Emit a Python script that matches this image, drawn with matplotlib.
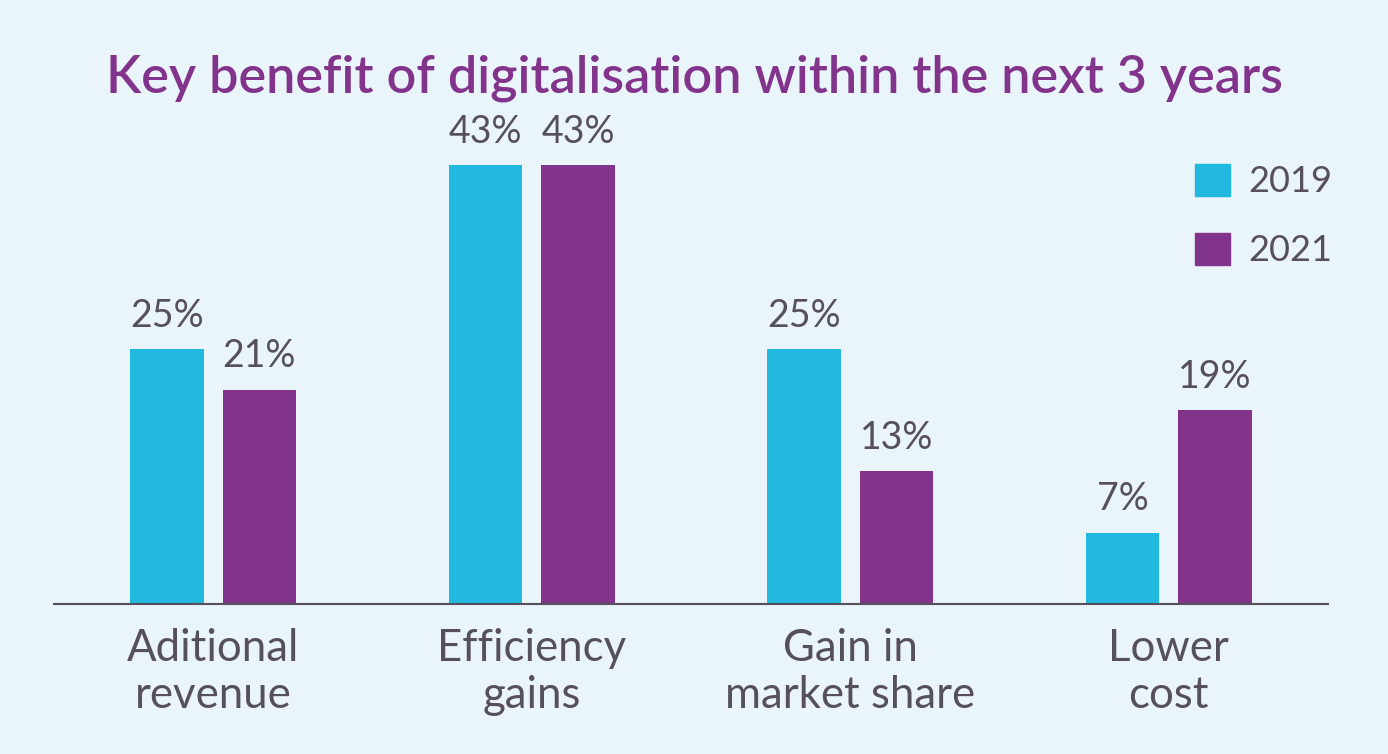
import matplotlib
matplotlib.use("Agg")
import matplotlib.pyplot as plt
from matplotlib.patches import Patch
import numpy as np

categories = ["Aditional\nrevenue", "Efficiency\ngains", "Gain in\nmarket share", "Lower\ncost"]
series_names = ["2019", "2021"]
values_2019 = [25, 43, 25, 7]
values_2021 = [21, 43, 13, 19]
title = "Key benefit of digitalisation within the next 3 years"

BG = "#EAF4FB"
C2019 = "#22B9E0"
C2021 = "#82338B"
TXT = "#56505C"
TITLE_C = "#82338B"
FONT = "Lato"

W, H = 1388, 754
fig = plt.figure(figsize=(W / 100, H / 100), dpi=100, facecolor=BG)
ax = fig.add_axes([54 / W, 150 / H, (1328 - 54) / W, (604 - 100) / H])
ax.set_facecolor(BG)

x = np.arange(len(categories))
width = 0.23
off = 0.145
b1 = ax.bar(x - off, values_2019, width, color=C2019, label=series_names[0])
b2 = ax.bar(x + off, values_2021, width, color=C2021, label=series_names[1])

for bars in (b1, b2):
    ax.bar_label(bars, labels=[f"{v}%" for v in bars.datavalues], padding=11,
                 fontsize=27, color=TXT, family=FONT, fontweight="normal")

ax.set_xlim(-0.5, 3.5)
ax.set_ylim(0, 49.4)
ax.set_yticks([])
for s in ("top", "right", "left"):
    ax.spines[s].set_visible(False)
ax.spines["bottom"].set_color(TXT)
ax.spines["bottom"].set_linewidth(1.5)
ax.set_xticks(x)
ax.set_xticklabels(categories, fontsize=31.5, color=TXT, family=FONT,
                   fontweight="normal", linespacing=1.2)
ax.tick_params(axis="x", length=0, pad=17)

fig.text(0.5, 1 - 78 / H, title, ha="center", va="center", fontsize=37.5,
         color=TITLE_C, family=FONT, fontweight="semibold")

handles = [Patch(color=C2019, label=series_names[0]), Patch(color=C2021, label=series_names[1])]
leg = ax.legend(handles=handles, loc="upper left", bbox_to_anchor=(1195 / W, 1 - 164 / H),
                bbox_transform=fig.transFigure, frameon=False, fontsize=26,
                handlelength=0.97, handleheight=0.97, handletextpad=0.5,
                labelspacing=0.97, borderaxespad=0, borderpad=0)
for t in leg.get_texts():
    t.set_color(TXT)
    t.set_family(FONT)

fig.savefig("out.png", dpi=100, facecolor=BG)
